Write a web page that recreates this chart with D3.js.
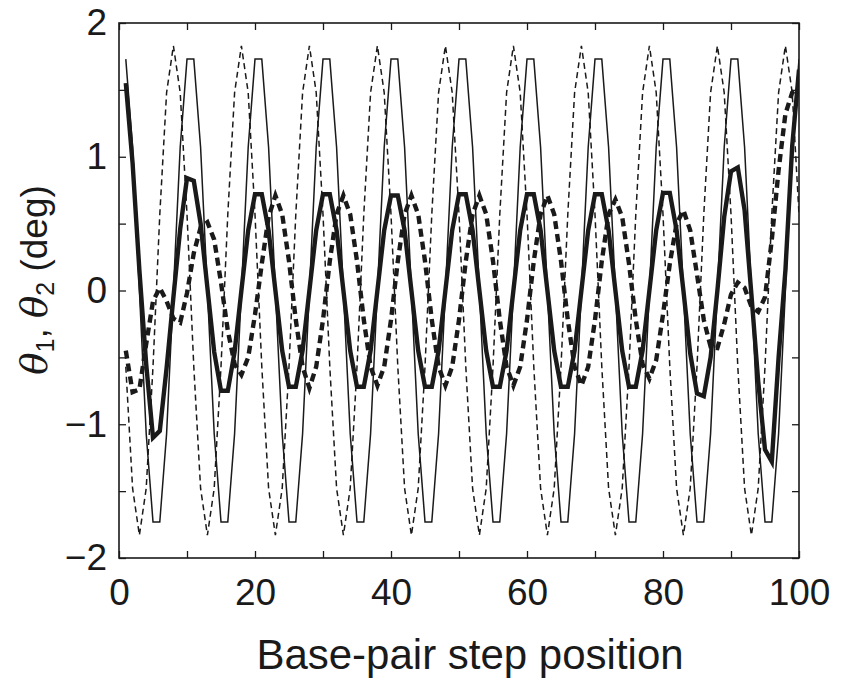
<!DOCTYPE html>
<html>
<head>
<meta charset="utf-8">
<script src="https://cdn.jsdelivr.net/npm/d3@7"></script>
<style>
  html, body { margin: 0; padding: 0; background: #fff; }
  svg { display: block; }
  text { font-family: "Liberation Sans", Arial, Helvetica, sans-serif; fill: #1a1a1a; }
</style>
</head>
<body>
<svg id="chart" width="841" height="679"></svg>
<script>
// Base-pair step positions
const positions = d3.range(1, 101);

// Thin solid line
const thinSolid = [
  1.73, 1.07, 0, -1.07, -1.73, -1.73, -1.07, 0, 1.07, 1.73,
  1.73, 1.07, 0, -1.07, -1.73, -1.73, -1.07, 0, 1.07, 1.73,
  1.73, 1.07, 0, -1.07, -1.73, -1.73, -1.07, 0, 1.07, 1.73,
  1.73, 1.07, 0, -1.07, -1.73, -1.73, -1.07, 0, 1.07, 1.73,
  1.73, 1.07, 0, -1.07, -1.73, -1.73, -1.07, 0, 1.07, 1.73,
  1.73, 1.07, 0, -1.07, -1.73, -1.73, -1.07, 0, 1.07, 1.73,
  1.73, 1.07, 0, -1.07, -1.73, -1.73, -1.07, 0, 1.07, 1.73,
  1.73, 1.07, 0, -1.07, -1.73, -1.73, -1.07, 0, 1.07, 1.73,
  1.73, 1.07, 0, -1.07, -1.73, -1.73, -1.07, 0, 1.07, 1.73,
  1.73, 1.07, 0, -1.07, -1.73, -1.73, -1.07, 0, 1.07, 1.73
];

// Thin dashed line
const thinDashed = [
  -0.57, -1.48, -1.83, -1.48, -0.57, 0.57, 1.48, 1.83, 1.48, 0.57,
  -0.57, -1.48, -1.83, -1.48, -0.57, 0.57, 1.48, 1.83, 1.48, 0.57,
  -0.57, -1.48, -1.83, -1.48, -0.57, 0.57, 1.48, 1.83, 1.48, 0.57,
  -0.57, -1.48, -1.83, -1.48, -0.57, 0.57, 1.48, 1.83, 1.48, 0.57,
  -0.57, -1.48, -1.83, -1.48, -0.57, 0.57, 1.48, 1.83, 1.48, 0.57,
  -0.57, -1.48, -1.83, -1.48, -0.57, 0.57, 1.48, 1.83, 1.48, 0.57,
  -0.57, -1.48, -1.83, -1.48, -0.57, 0.57, 1.48, 1.83, 1.48, 0.57,
  -0.57, -1.48, -1.83, -1.48, -0.57, 0.57, 1.48, 1.83, 1.48, 0.57,
  -0.57, -1.48, -1.83, -1.48, -0.57, 0.57, 1.48, 1.83, 1.48, 0.57,
  -0.57, -1.48, -1.83, -1.48, -0.57, 0.57, 1.48, 1.83, 1.48, 0.57
];

// Thick solid line
const thickSolid = [
  1.55, 0.95, 0.15, -0.55, -1.10, -1.05, -0.58, -0.05, 0.46, 0.84,
  0.82, 0.50, 0.02, -0.46, -0.75, -0.75, -0.46, 0.00, 0.45, 0.72,
  0.72, 0.45, 0.00, -0.45, -0.72, -0.72, -0.45, 0.00, 0.45, 0.72,
  0.72, 0.45, 0.00, -0.45, -0.72, -0.72, -0.45, 0.00, 0.45, 0.71,
  0.71, 0.45, 0.00, -0.45, -0.72, -0.72, -0.45, 0.00, 0.45, 0.72,
  0.72, 0.45, 0.00, -0.45, -0.72, -0.72, -0.45, 0.00, 0.45, 0.72,
  0.72, 0.45, 0.00, -0.45, -0.72, -0.72, -0.45, 0.00, 0.45, 0.72,
  0.72, 0.45, 0.00, -0.45, -0.72, -0.72, -0.45, 0.00, 0.45, 0.73,
  0.73, 0.45, 0.00, -0.47, -0.77, -0.79, -0.50, 0.00, 0.55, 0.89,
  0.92, 0.60, -0.03, -0.68, -1.19, -1.28, -0.50, 0.15, 1.08, 1.65
];

// Thick dashed line
const thickDashed = [
  -0.45, -0.76, -0.74, -0.40, -0.08, 0.02, -0.08, -0.21, -0.24, -0.02,
  0.28, 0.47, 0.51, 0.38, 0.06, -0.30, -0.55, -0.63, -0.50, -0.18,
  0.20, 0.55, 0.71, 0.57, 0.22, -0.22, -0.57, -0.73, -0.57, -0.22,
  0.22, 0.57, 0.71, 0.57, 0.22, -0.22, -0.57, -0.71, -0.57, -0.22,
  0.22, 0.57, 0.71, 0.57, 0.22, -0.22, -0.57, -0.71, -0.57, -0.22,
  0.22, 0.57, 0.71, 0.57, 0.22, -0.22, -0.57, -0.71, -0.57, -0.22,
  0.22, 0.57, 0.71, 0.57, 0.22, -0.22, -0.57, -0.71, -0.57, -0.22,
  0.22, 0.57, 0.68, 0.55, 0.20, -0.22, -0.55, -0.66, -0.52, -0.18,
  0.20, 0.50, 0.60, 0.45, 0.12, -0.22, -0.42, -0.43, -0.25, -0.03,
  0.06, 0.02, -0.12, -0.16, -0.05, 0.38, 0.90, 1.32, 1.48, 1.52
];

const xTicks = [0, 10, 20, 30, 40, 50, 60, 70, 80, 90, 100];
const xTickLabels = [0, 20, 40, 60, 80, 100];
const yTicks = [-2, -1.5, -1, -0.5, 0, 0.5, 1, 1.5, 2];
const yTickLabels = [-2, -1, 0, 1, 2];
const xTitle = "Base-pair step position";

const W = 841, H = 679;
const m = { left: 119, right: 42, top: 23, bottom: 121 };
const iw = W - m.left - m.right, ih = H - m.top - m.bottom;
const ink = "#1a1a1a";

const svg = d3.select("#chart");
const g = svg.append("g").attr("transform", `translate(${m.left},${m.top})`);

const x = d3.scaleLinear().domain([0, 100]).range([0, iw]);
const y = d3.scaleLinear().domain([-2, 2]).range([ih, 0]);

const defs = svg.append("defs");
defs.append("clipPath").attr("id", "clip").append("rect")
  .attr("x", 0).attr("y", 0).attr("width", iw).attr("height", ih);

const line = d3.line().x((d, i) => x(positions[i])).y(d => y(d));

const plot = g.append("g").attr("clip-path", "url(#clip)");
const series = [
  { data: thinDashed, w: 1.5, dash: "6,4" },
  { data: thinSolid, w: 1.5, dash: null },
  { data: thickDashed, w: 4.4, dash: "8,5" },
  { data: thickSolid, w: 4.4, dash: null }
];
series.forEach(s => {
  plot.append("path")
    .datum(s.data)
    .attr("d", line)
    .attr("fill", "none")
    .attr("stroke", ink)
    .attr("stroke-width", s.w)
    .attr("stroke-linejoin", "miter")
    .attr("stroke-dasharray", s.dash);
});

const tickLen = 7;
function styleAxis(sel) {
  sel.select(".domain").remove();
  sel.selectAll(".tick line").attr("stroke", ink).attr("stroke-width", 1.3);
  sel.selectAll("text").attr("font-size", 37).style("fill", ink);
}

const fmt = d => (yTickLabels.includes(d) ? d3.format("d")(d) : "");
const fmtX = d => (xTickLabels.includes(d) ? String(d) : "");

g.append("g").attr("transform", `translate(0,${ih})`)
  .call(d3.axisBottom(x).tickValues(xTicks).tickSize(-tickLen).tickPadding(21).tickFormat(fmtX))
  .call(styleAxis);
g.append("g")
  .call(d3.axisTop(x).tickValues(xTicks).tickSize(-tickLen).tickFormat(""))
  .call(styleAxis);
g.append("g")
  .call(d3.axisLeft(y).tickValues(yTicks).tickSize(-tickLen).tickPadding(12).tickFormat(fmt))
  .call(styleAxis);
g.append("g").attr("transform", `translate(${iw},0)`)
  .call(d3.axisRight(y).tickValues(yTicks).tickSize(-tickLen).tickFormat(""))
  .call(styleAxis);

g.append("rect").attr("x", 0).attr("y", 0).attr("width", iw).attr("height", ih)
  .attr("fill", "none").attr("stroke", ink).attr("stroke-width", 1.6);

svg.append("text")
  .attr("x", 470).attr("y", 669)
  .attr("text-anchor", "middle").attr("font-size", 42)
  .text(xTitle);

const yl = svg.append("text")
  .attr("transform", `translate(47,280) rotate(-90)`)
  .attr("text-anchor", "middle").attr("font-size", 37);
yl.append("tspan").attr("font-style", "italic").attr("font-family", "'DejaVu Serif', serif").text("θ");
yl.append("tspan").attr("font-size", 25).attr("dy", 7).text("1");
yl.append("tspan").attr("dy", -7).text(", ");
yl.append("tspan").attr("font-style", "italic").attr("font-family", "'DejaVu Serif', serif").text("θ");
yl.append("tspan").attr("font-size", 25).attr("dy", 7).text("2");
yl.append("tspan").attr("dy", -7).text(" (deg)");
</script>
</body>
</html>
